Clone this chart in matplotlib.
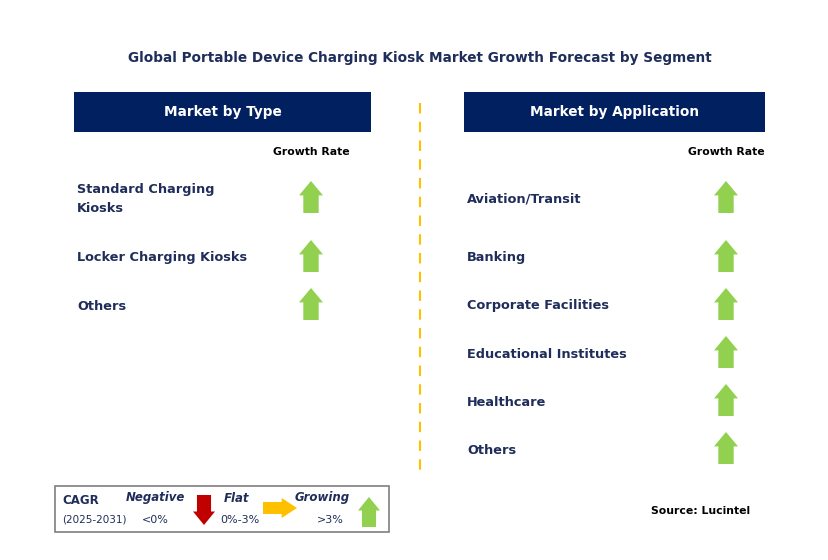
import matplotlib.pyplot as plt
from matplotlib.patches import Rectangle, Polygon

title = "Global Portable Device Charging Kiosk Market Growth Forecast by Segment"
type_header = "Market by Type"
app_header = "Market by Application"
type_labels = ["Standard Charging\nKiosks", "Locker Charging Kiosks", "Others"]
type_growth = ["up", "up", "up"]
app_labels = ["Aviation/Transit", "Banking", "Corporate Facilities",
              "Educational Institutes", "Healthcare", "Others"]
app_growth = ["up", "up", "up", "up", "up", "up"]

NAVY = "#002060"
TXT = "#1F2D5A"
GREEN = "#92D050"
RED = "#C00000"
YELLOW = "#FFC000"

fig = plt.figure(figsize=(8.29, 5.6), dpi=100)
ax = fig.add_axes([0, 0, 1, 1])
ax.set_xlim(0, 829)
ax.set_ylim(560, 0)
ax.axis("off")


def arrow(cx, cy, kind, w=24, h=32):
    hw, sh = w / 2, w * 0.32
    hh = h * 0.45
    if kind == "up":
        pts = [(cx, cy - h / 2), (cx + hw, cy - h / 2 + hh), (cx + sh, cy - h / 2 + hh),
               (cx + sh, cy + h / 2), (cx - sh, cy + h / 2), (cx - sh, cy - h / 2 + hh),
               (cx - hw, cy - h / 2 + hh)]
        col = GREEN
    elif kind == "down":
        pts = [(cx, cy + h / 2), (cx + hw, cy + h / 2 - hh), (cx + sh, cy + h / 2 - hh),
               (cx + sh, cy - h / 2), (cx - sh, cy - h / 2), (cx - sh, cy + h / 2 - hh),
               (cx - hw, cy + h / 2 - hh)]
        col = RED
    else:
        L, T = h, w
        pts = [(cx + L / 2, cy), (cx + L / 2 - hh, cy - T / 2), (cx + L / 2 - hh, cy - T * 0.3),
               (cx - L / 2, cy - T * 0.3), (cx - L / 2, cy + T * 0.3),
               (cx + L / 2 - hh, cy + T * 0.3), (cx + L / 2 - hh, cy + T / 2)]
        col = YELLOW
    ax.add_patch(Polygon(pts, closed=True, color=col, lw=0))


ax.text(420, 58, title, ha="center", va="center", fontsize=9.8, fontweight="bold", color=TXT)

panels = [
    (74, 297, type_header, type_labels, type_growth, 311, [199, 258, 306]),
    (464, 301, app_header, app_labels, app_growth, 726, [199, 258, 306, 354, 402, 450]),
]
for x0, w, head, labels, growth, ax_x, ys in panels:
    ax.add_patch(Rectangle((x0, 92), w, 40, color=NAVY, lw=0))
    ax.text(x0 + w / 2, 112, head, ha="center", va="center", fontsize=9.8,
            fontweight="bold", color="white")
    ax.text(ax_x, 152, "Growth Rate", ha="center", va="center", fontsize=7.8,
            fontweight="bold", color="black")
    for lab, g, y in zip(labels, growth, ys):
        ax.text(x0 + 3, y, lab, ha="left", va="center", fontsize=9.3,
                fontweight="bold", color=TXT, linespacing=1.6)
        arrow(ax_x, y - 2, g)

ax.plot([420, 420], [103, 478], ls=(0, (5, 4)), color=YELLOW, lw=1.5)

# legend box
ax.add_patch(Rectangle((55, 486), 334, 46, fill=False, ec="#7F7F7F", lw=1.2))
ax.text(62, 500, "CAGR", fontsize=8.5, fontweight="bold", color=TXT, va="center")
ax.text(62, 519, "(2025-2031)", fontsize=7.5, color=TXT, va="center")
for x, name in [(155, "Negative"), (237, "Flat"), (322, "Growing")]:
    ax.text(x, 498, name, fontsize=8.5, fontweight="bold", style="italic", color=TXT,
            ha="center", va="center")
for x, rng in [(155, "<0%"), (240, "0%-3%"), (330, ">3%")]:
    ax.text(x, 520, rng, fontsize=8, color=TXT, ha="center", va="center")
arrow(204, 510, "down", w=22, h=30)
arrow(280, 508, "right", w=20, h=34)
arrow(369, 512, "up", w=22, h=30)

ax.text(750, 511, "Source: Lucintel", ha="right", va="center", fontsize=7.8,
        fontweight="bold", color="black")

fig.savefig("out.png", dpi=100)
